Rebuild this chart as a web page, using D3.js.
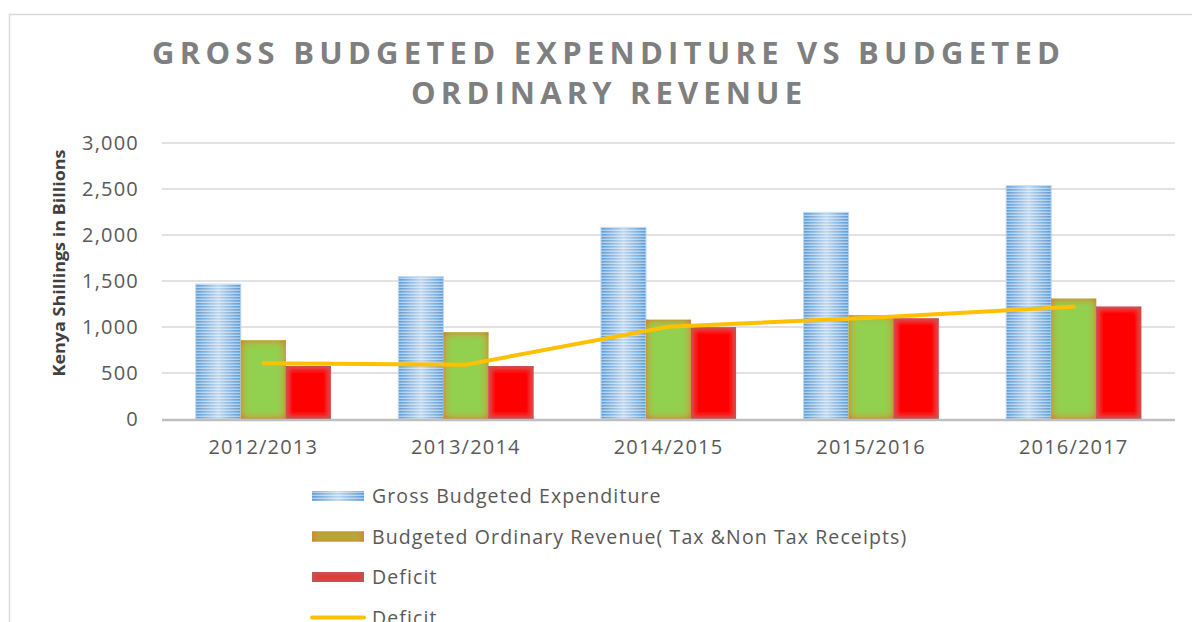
<!DOCTYPE html>
<html>
<head>
<meta charset="utf-8">
<script src="https://cdn.jsdelivr.net/npm/d3@7"></script>
<style>
  body { margin: 0; background: #fff; }
  text { font-family: "Open Sans", sans-serif; fill: #595959; }
</style>
</head>
<body>
<div id="chart"></div>
<script>
// data
var years = ["2012/2013", "2013/2014", "2014/2015", "2015/2016", "2016/2017"];
var grossExpenditure = [1467, 1547, 2083, 2246, 2536];
var ordinaryRevenue = [855, 942, 1079, 1127, 1308];
var deficitBars = [576, 576, 997, 1094, 1221];
var deficitLine = [605, 590, 1003, 1100, 1221];
var yTicks = [0, 500, 1000, 1500, 2000, 2500, 3000];
var seriesNames = ["Gross Budgeted Expenditure", "Budgeted Ordinary Revenue( Tax &Non Tax Receipts)", "Deficit", "Deficit"];

var W = 1192, H = 622;
var margin = {top: 143, left: 162, right: 17, bottom: 203};

var svg = d3.select("#chart").append("svg")
    .attr("width", W)
    .attr("height", H);

var defs = svg.append("defs");

// striped blue fill
var pat = defs.append("pattern")
    .attr("id", "stripes")
    .attr("patternUnits", "userSpaceOnUse")
    .attr("width", 8).attr("height", 3);
pat.append("rect").attr("width", 8).attr("height", 3).attr("fill", "#a9cbec");
pat.append("rect").attr("width", 8).attr("height", 1.6).attr("fill", "#5b9bd5");

var shine = defs.append("linearGradient").attr("id", "shine");
shine.append("stop").attr("offset", "0%").attr("stop-color", "#fff").attr("stop-opacity", 0);
shine.append("stop").attr("offset", "50%").attr("stop-color", "#fff").attr("stop-opacity", 0.6);
shine.append("stop").attr("offset", "100%").attr("stop-color", "#fff").attr("stop-opacity", 0);

// soft inner glow for green / red bars
function glow(id, edge, sd) {
    var f = defs.append("filter").attr("id", id)
        .attr("x", "-5%").attr("y", "-5%").attr("width", "110%").attr("height", "110%");
    f.append("feGaussianBlur").attr("in", "SourceAlpha").attr("stdDeviation", sd).attr("result", "blur");
    f.append("feComposite").attr("in", "SourceAlpha").attr("in2", "blur").attr("operator", "out").attr("result", "inv");
    f.append("feComponentTransfer").attr("in", "inv").attr("result", "inv2")
      .append("feFuncA").attr("type", "linear").attr("slope", 1.7);
    f.append("feFlood").attr("flood-color", edge);
    f.append("feComposite").attr("in2", "inv2").attr("operator", "in").attr("result", "edge");
    var m = f.append("feMerge");
    m.append("feMergeNode").attr("in", "SourceGraphic");
    m.append("feMergeNode").attr("in", "edge");
}
glow("glowGreen", "#c98c38", 4);
glow("glowRed", "#b8595a", 3);

// chart frame
svg.append("rect")
    .attr("x", 9.5).attr("y", 14.5)
    .attr("width", W + 20).attr("height", H + 20)
    .attr("fill", "none")
    .attr("stroke", "#d9d9d9")
    .attr("stroke-width", 1.5);

// title
var title = svg.append("g").attr("font-weight", "bold");
title.append("text")
    .attr("x", 152).attr("y", 64)
    .attr("textLength", 908).attr("lengthAdjust", "spacing")
    .style("font-size", "31px").style("fill", "#7f7f7f")
    .text("GROSS BUDGETED EXPENDITURE VS BUDGETED");
title.append("text")
    .attr("x", 411).attr("y", 104)
    .attr("textLength", 391).attr("lengthAdjust", "spacing")
    .style("font-size", "31px").style("fill", "#7f7f7f")
    .text("ORDINARY REVENUE");

var x0 = d3.scaleBand()
    .domain(years)
    .range([margin.left, W - margin.right])
    .paddingInner(1.5 / 4.5)
    .paddingOuter(0.75 / 4.5);

var x1 = d3.scaleBand()
    .domain([0, 1, 2])
    .range([0, x0.bandwidth()]);

var y = d3.scaleLinear()
    .domain([0, 3000])
    .range([419, margin.top]);

// gridlines
svg.append("g")
    .selectAll("line")
    .data(yTicks.slice(1))
    .enter()
    .append("line")
    .attr("x1", margin.left).attr("x2", W - margin.right)
    .attr("y1", d => y(d)).attr("y2", d => y(d))
    .attr("stroke", "#d9d9d9")
    .attr("stroke-width", 1.5);

// y axis labels
var yAxis = svg.append("g")
    .attr("transform", "translate(" + margin.left + ",0)")
    .call(d3.axisLeft(y).tickValues(yTicks).tickSize(0).tickPadding(23).tickFormat(d3.format(",")));
yAxis.select(".domain").remove();
yAxis.selectAll("text")
    .style("font-size", "20px").style("fill", "#595959")
    .style("font-family", "Open Sans").style("letter-spacing", "1.2px");

svg.append("text")
    .attr("transform", "translate(65," + 263 + ") rotate(-90)")
    .attr("text-anchor", "middle")
    .attr("textLength", 227).attr("lengthAdjust", "spacingAndGlyphs")
    .style("font-size", "16.5px").style("font-weight", "bold").style("fill", "#404040")
    .text("Kenya Shillings in Billions");

// bars
var groups = svg.append("g")
    .selectAll("g")
    .data(years)
    .enter()
    .append("g")
    .attr("transform", d => "translate(" + x0(d) + ",0)");

groups.append("rect")
    .attr("x", x1(0))
    .attr("y", (d, i) => y(grossExpenditure[i]))
    .attr("width", x1.bandwidth())
    .attr("height", (d, i) => y(0) - y(grossExpenditure[i]))
    .attr("fill", "url(#stripes)")
    .attr("stroke", "#bdd7ee").attr("stroke-width", 1);
groups.append("rect")
    .attr("x", x1(0))
    .attr("y", (d, i) => y(grossExpenditure[i]))
    .attr("width", x1.bandwidth())
    .attr("height", (d, i) => y(0) - y(grossExpenditure[i]))
    .attr("fill", "url(#shine)");

groups.append("rect")
    .attr("x", x1(1))
    .attr("y", (d, i) => y(ordinaryRevenue[i]))
    .attr("width", x1.bandwidth())
    .attr("height", (d, i) => y(0) - y(ordinaryRevenue[i]))
    .attr("fill", "#92d050")
    .attr("filter", "url(#glowGreen)");

groups.append("rect")
    .attr("x", x1(2))
    .attr("y", (d, i) => y(deficitBars[i]))
    .attr("width", x1.bandwidth())
    .attr("height", (d, i) => y(0) - y(deficitBars[i]))
    .attr("fill", "#ff0000")
    .attr("filter", "url(#glowRed)");

// baseline
svg.append("line")
    .attr("x1", margin.left).attr("x2", W - margin.right)
    .attr("y1", y(0) + 1).attr("y2", y(0) + 1)
    .attr("stroke", "#bfbfbf")
    .attr("stroke-width", 2.5);

// deficit line
var line = d3.line()
    .x((d, i) => x0(years[i]) + x0.bandwidth() / 2)
    .y(d => y(d));
svg.append("path")
    .datum(deficitLine)
    .attr("d", line)
    .attr("fill", "none")
    .attr("stroke", "#ffc000")
    .attr("stroke-width", 4)
    .attr("stroke-linecap", "round")
    .attr("stroke-linejoin", "round");

// x labels
svg.append("g")
    .selectAll("text")
    .data(years)
    .enter()
    .append("text")
    .attr("x", d => x0(d) + x0.bandwidth() / 2)
    .attr("y", 454)
    .attr("text-anchor", "middle")
    .style("font-size", "20px")
    .style("letter-spacing", "1.2px")
    .text(d => d);

// legend
var legend = svg.append("g").attr("transform", "translate(312,496)");
var rowH = 40.5;
legend.append("rect").attr("x", 0).attr("y", -5).attr("width", 52).attr("height", 10)
    .attr("fill", "url(#stripes)");
legend.append("rect").attr("x", 0).attr("y", -5).attr("width", 52).attr("height", 10)
    .attr("fill", "url(#shine)");
legend.append("rect").attr("x", 0).attr("y", rowH - 5).attr("width", 52).attr("height", 10)
    .attr("fill", "#a8b840").attr("filter", "url(#glowGreen)");
legend.append("rect").attr("x", 0).attr("y", 2 * rowH - 5).attr("width", 52).attr("height", 10)
    .attr("fill", "#e83030").attr("filter", "url(#glowRed)");
legend.append("line")
    .attr("x1", 0).attr("x2", 52)
    .attr("y1", 3 * rowH).attr("y2", 3 * rowH)
    .attr("stroke", "#ffc000").attr("stroke-width", 4).attr("stroke-linecap", "round");

legend.selectAll("text.lg")
    .data(seriesNames)
    .enter()
    .append("text")
    .attr("class", "lg")
    .attr("x", 60)
    .attr("y", (d, i) => i * rowH + 7)
    .style("font-size", "19.5px")
    .style("letter-spacing", "1.1px")
    .text(d => d);
</script>
</body>
</html>
